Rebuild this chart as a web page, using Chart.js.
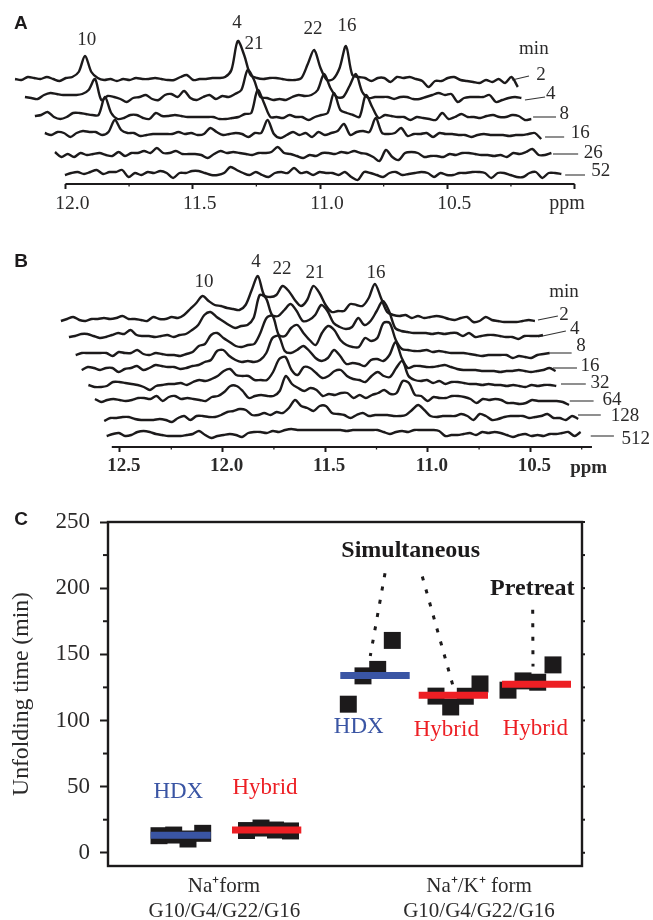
<!DOCTYPE html>
<html>
<head>
<meta charset="utf-8">
<title>Unfolding time</title>
<script src="https://cdn.jsdelivr.net/npm/chart.js@4/dist/chart.umd.min.js"></script>
<style>
body { margin: 0; background: #fff; width: 653px; height: 920px; position: relative; overflow: hidden; }
canvas { position: absolute; left: 0; }
#chartA { top: 0; }
#chartB { top: 240px; }
#chartC { top: 495px; }
</style>
</head>
<body>
<canvas id="chartA" width="653" height="225"></canvas>
<canvas id="chartB" width="653" height="255"></canvas>
<canvas id="chartC" width="653" height="425"></canvas>
<script>
// panel A spectra, height above the ppm axis, sampled every 0.025 ppm
var stepA = 0.025;
var startsA = [12.198, 12.159, 12.120, 12.081, 12.041, 12.002];
var a2 = [105,104,107,106,105,107,105,103,106,107,112,128,112,106,104,105,103,105,104,106,105,105,106,105,104,104,107,109,104,105,105,106,106,107,114,143,129,109,106,105,106,106,105,104,104,106,120,134,116,104,105,116,138,109,107,106,103,106,106,102,107,106,107,105,103,97,103,103,106,107,104,103,102,101,104,102,105,101,107,97];
var a4 = [87,86,85,89,91,90,89,89,89,90,94,105,84,88,87,85,82,86,87,89,85,84,89,90,87,93,86,84,87,89,85,88,87,90,94,114,104,87,86,84,85,84,87,89,88,89,94,110,96,87,87,98,110,92,86,87,87,87,85,87,87,85,85,87,89,91,89,90,82,86,87,87,87,89,82,84,86,87,86];
var a8 = [68,69,72,67,65,67,71,71,70,69,69,87,71,65,66,69,69,66,65,71,68,68,69,68,67,67,67,67,67,65,65,66,67,70,71,94,81,67,67,66,69,67,67,64,67,69,71,91,74,71,69,67,89,77,66,69,68,67,67,64,67,66,65,64,71,65,67,70,67,67,66,68,69,67,67,69,68,64,65];
var a16 = [51,49,52,51,47,51,53,52,52,49,52,64,54,51,51,48,49,50,50,50,50,52,50,51,49,50,56,52,49,50,51,50,47,51,51,64,50,46,49,52,49,51,47,52,49,51,53,60,49,52,53,52,66,51,50,51,56,48,50,50,51,47,51,50,50,49,49,47,49,50,49,49,49,48,49,49,50,51,45];
var a26 = [32,27,30,27,31,29,30,31,29,28,32,28,31,31,33,31,36,31,31,33,30,30,30,29,26,30,33,31,32,31,30,29,31,31,32,37,31,30,28,26,29,28,31,31,30,32,31,33,31,30,27,23,34,27,24,31,32,31,27,28,28,27,30,29,31,31,30,29,29,28,29,27,31,30,32,35,29,29,31];
var a52 = [9,11,12,10,12,14,10,12,12,14,7,11,9,12,11,13,11,6,11,11,13,13,11,9,9,11,17,14,11,9,12,9,7,11,12,11,16,11,12,9,12,11,11,9,12,7,4,12,11,9,7,11,12,9,10,11,12,11,7,11,9,9,11,11,12,12,11,6,11,11,9,7,7,11,12,6,11,11,10];

// panel B spectra, sampled every 0.03 ppm
var stepB = 0.03;
var startsB = [12.788, 12.749, 12.716, 12.687, 12.654, 12.622, 12.577, 12.565];
var b2 = [126,128,130,127,126,128,128,129,128,129,131,128,128,127,126,130,128,128,130,129,132,138,144,151,146,142,141,139,138,137,142,157,171,152,150,152,161,156,147,141,147,161,154,142,135,136,136,143,142,141,149,163,149,135,132,131,132,129,131,129,130,131,130,128,127,129,130,125,126,130,127,126,125,125,125,126,127,126];
var b4 = [110,111,113,113,111,109,110,112,114,113,117,112,111,111,110,111,112,110,112,113,117,122,132,135,130,126,122,119,121,122,129,152,149,132,131,137,143,136,126,127,132,142,136,124,120,118,120,129,122,126,136,146,136,119,116,115,114,114,114,113,114,113,114,114,111,114,110,111,112,112,111,110,110,108,111,111,111,112];
var b8 = [92,94,94,94,94,94,91,95,94,94,97,93,92,94,93,92,92,91,93,95,101,103,112,114,109,105,101,100,102,103,114,129,131,112,111,119,122,114,107,102,114,121,117,107,102,100,100,109,106,109,124,124,107,98,97,96,96,97,95,96,95,94,94,94,93,92,91,92,92,92,92,89,91,90,89,92,93,94];
var b16 = [77,80,79,77,79,79,75,78,79,81,77,79,82,81,80,80,78,79,81,82,85,87,96,97,91,87,85,86,85,87,94,109,111,96,94,97,101,96,89,86,89,97,91,83,84,83,81,87,88,86,92,105,89,79,81,81,80,80,81,82,80,78,77,77,77,76,76,76,75,76,76,77,76,75,76,77,79,76];
var b32 = [62,60,60,61,65,65,64,63,62,60,57,61,62,63,63,64,62,65,67,66,68,71,76,78,72,71,71,67,67,67,75,88,90,77,72,80,79,74,69,71,76,77,71,68,67,65,71,75,71,70,79,86,71,67,66,67,64,66,63,65,65,64,63,63,62,63,62,62,61,62,61,60,62,61,62,62,61];
var b64 = [48,45,47,48,47,46,47,49,49,48,51,46,50,51,48,49,48,47,46,50,51,55,61,61,56,49,51,52,51,51,56,71,63,59,56,59,57,51,53,52,54,54,49,52,49,52,54,57,53,54,66,64,52,51,46,50,49,49,51,51,50,48,44,48,47,48,47,44,44,43,44,47,46,46,46,46,45,42];
var b128 = [26,29,29,30,30,28,27,27,27,28,27,25,29,31,27,31,31,30,30,32,35,36,38,37,32,32,34,32,35,34,39,47,41,39,36,41,41,34,33,32,29,32,34,31,32,32,32,31,31,32,37,42,37,31,30,31,31,31,33,31,27,33,31,27,28,30,31,31,31,29,30,31,33,29,29,27,31,28];
var b512 = [11,13,14,11,12,15,16,15,13,12,11,11,11,12,13,16,12,9,11,12,13,12,10,14,15,15,14,16,15,17,18,17,17,17,17,17,17,17,17,16,17,17,17,17,17,15,13,15,16,15,17,17,17,17,16,11,12,12,13,14,12,15,14,15,14,12,10,12,13,11,12,11,13,13,14,15,11,15];

var axisEndsA = [12.0, 10.0];
var majorTicksA = [12.0, 11.5, 11.0, 10.5, 10.0];
var minorTicksA = [11.75, 11.25, 10.75, 10.25];
var axisEndsB = [12.54, 10.2];
var majorTicksB = [12.5, 12.0, 11.5, 11.0, 10.5];
var minorTicksB = [12.25, 11.75, 11.25, 10.75, 10.25];

// little lines joining each spectrum to its minute label
var tailXA = [[10.246,10.179],[10.195,10.116],[10.163,10.073],[10.116,10.041],[10.085,9.986],[10.037,9.959]];
var tailYA = [[104,108],[84,87],[67,67],[47,47],[30,30],[9,9]];
var tailXB = [[10.463,10.366],[10.463,10.327],[10.406,10.299],[10.39,10.273],[10.351,10.23],[10.308,10.192],[10.268,10.157],[10.206,10.093]];
var tailYB = [[127,131],[110,116],[94,94],[79,79],[63,63],[46,46],[32,32],[11,11]];

var peakTextA = ['10', '4', '21', '22', '16'];
var peakXA = [11.916, 11.326, 11.259, 11.028, 10.894];
var peakYA = [144, 161, 140, 155, 158];
var minTextA = ['min', '2', '4', '8', '16', '26', '52'];
var minXA = [10.160, 10.132, 10.094, 10.041, 9.978, 9.927, 9.897];
var minYA = [135, 109, 90, 70, 51, 31, 13];

var peakTextB = ['10', '4', '22', '21', '16'];
var peakXB = [12.091, 11.837, 11.711, 11.55, 11.252];
var peakYB = [165, 185, 178, 174, 174];
var minTextB = ['min', '2', '4', '8', '16', '32', '64', '128', '512'];
var minXB = [10.336, 10.336, 10.284, 10.253, 10.21, 10.161, 10.102, 10.039, 9.987];
var minYB = [155, 132, 118, 101, 81, 64, 47, 31, 8];

// panel C, x is only a position along the box
var hdxNaX = [51, 65.7, 80, 94.7];
var hdxNaY = [12.9, 13.4, 10.4, 14.7];
var hybridNaX = [138.5, 153, 167.5, 182.5];
var hybridNaY = [16.8, 18.7, 17.2, 16.5];
var hdxKX = [240.3, 255, 269.7, 284.3];
var hdxKY = [112.3, 133.7, 138.6, 160.5];
var hybridKX = [328, 342.7, 357.3, 372];
var hybridKY = [118.4, 110.2, 118.3, 127.6];
var pretreatX = [400, 415, 429.7, 445];
var pretreatY = [122.9, 129.9, 128.9, 142];

var blueMeansX = [[42.7, 102.7], [232.3, 301.7]];
var blueMeansY = [13.2, 133.9];
var redMeansX = [[124, 193.3], [310.7, 380], [394, 463]];
var redMeansY = [17.2, 119, 127.4];

var dottedX = [[277, 262.3], [314.3, 345], [424.7, 425]];
var dottedY = [[211.3, 148.8], [208.8, 126.1], [183.6, 140.7]];

var majorTicksC = [0, 50, 100, 150, 200, 250];
var minorTicksC = [25, 75, 125, 175, 225];

var ink = '#1c1a1b';
var textInk = '#2b2a2a';
var blue = '#3a55a4';
var red = '#ed1f24';

function makeLabels(texts, xs, ys, font, color) {
    var list = [];
    for (var i = 0; i < texts.length; i++) {
        list.push({ text: texts[i], x: xs[i], y: ys[i], font: font, color: color });
    }
    return list;
}

function traceDatasets(traces, starts, step) {
    var out = [];
    traces.forEach(function(values, t) {
        out.push({
            data: values.map(function(v, i) { return { x: starts[t] - i * step, y: v }; }),
            showLine: true, borderColor: ink, borderWidth: 2.4, pointRadius: 0, tension: 0.3
        });
    });
    return out;
}

function tailDatasets(xs, ys) {
    return xs.map(function(x, i) {
        return {
            data: [{ x: x[0], y: ys[i][0] }, { x: x[1], y: ys[i][1] }],
            showLine: true, borderColor: '#333', borderWidth: 1.1, pointRadius: 0
        };
    });
}

// writes the annotations and adds what Chart.js has no option for (short minor ticks, box)
var panelExtras = {
    id: 'panelExtras',
    afterDraw: function(chart, args, opts) {
        var ctx = chart.ctx;
        var sx = chart.scales.x, sy = chart.scales.y;
        ctx.save();
        ctx.strokeStyle = ink;
        if (opts.box) {
            var a = chart.chartArea;
            ctx.lineWidth = 2.4;
            ctx.strokeRect(a.left, a.top, a.right - a.left, a.bottom - a.top);
            ctx.lineWidth = 2;
            (opts.minorY || []).forEach(function(v) {
                var p = sy.getPixelForValue(v);
                ctx.beginPath(); ctx.moveTo(a.left - 5, p); ctx.lineTo(a.left, p); ctx.stroke();
            });
            (opts.minorY || []).concat(opts.majorY || []).forEach(function(v) {
                var p = sy.getPixelForValue(v);
                ctx.beginPath(); ctx.moveTo(a.right, p); ctx.lineTo(a.right + 3, p); ctx.stroke();
            });
        }
        (opts.minorX || []).forEach(function(v) {
            var p = sx.getPixelForValue(v);
            var b = chart.chartArea.bottom;
            ctx.lineWidth = 1.3;
            ctx.beginPath(); ctx.moveTo(p, b); ctx.lineTo(p, b + 2.5); ctx.stroke();
        });
        ctx.textAlign = 'center';
        ctx.textBaseline = 'middle';
        (opts.labels || []).forEach(function(l) {
            ctx.font = l.font;
            ctx.fillStyle = l.color;
            ctx.fillText(l.text, sx.getPixelForValue(l.x), sy.getPixelForValue(l.y));
        });
        ctx.restore();
    }
};

function drawSpectrum(id, traces, starts, step, tailX, tailY, axisEnds, majors, minors, xMin, xMax, yMax, bottomH, labelOffset, tickFont, labels) {
    var sets = traceDatasets(traces, starts, step).concat(tailDatasets(tailX, tailY));
    sets.push({
        data: [{ x: axisEnds[0], y: 0 }, { x: axisEnds[1], y: 0 }],
        showLine: true, borderColor: ink, borderWidth: 1.8, pointRadius: 0, clip: false
    });
    new Chart(document.getElementById(id), {
        type: 'scatter',
        data: { datasets: sets },
        options: {
            responsive: false,
            animation: false,
            layout: { padding: 0 },
            plugins: {
                legend: { display: false },
                tooltip: { enabled: false },
                panelExtras: { minorX: minors, labels: labels }
            },
            scales: {
                x: {
                    type: 'linear', reverse: true, min: xMin, max: xMax,
                    afterBuildTicks: function(s) { s.ticks = majors.map(function(v) { return { value: v }; }); },
                    afterFit: function(s) { s.height = bottomH; },
                    grid: { drawOnChartArea: false, tickLength: 5, tickWidth: 2, tickColor: ink },
                    border: { display: false },
                    ticks: {
                        autoSkip: false, maxRotation: 0, padding: 3, labelOffset: labelOffset,
                        color: textInk, font: tickFont,
                        callback: function(v) { return v == 10 ? '' : v.toFixed(1); }
                    }
                },
                y: { display: false, min: 0, max: yMax }
            }
        },
        plugins: [panelExtras]
    });
}

function drawPanelC() {
    var sets = [];
    blueMeansX.forEach(function(x, i) {
        sets.push({ data: [{ x: x[0], y: blueMeansY[i] }, { x: x[1], y: blueMeansY[i] }], showLine: true, borderColor: blue, borderWidth: 7, pointRadius: 0, order: 1 });
    });
    redMeansX.forEach(function(x, i) {
        sets.push({ data: [{ x: x[0], y: redMeansY[i] }, { x: x[1], y: redMeansY[i] }], showLine: true, borderColor: red, borderWidth: 7, pointRadius: 0, order: 1 });
    });
    dottedX.forEach(function(x, i) {
        sets.push({ data: [{ x: x[0], y: dottedY[i][0] }, { x: x[1], y: dottedY[i][1] }], showLine: true, borderColor: ink, borderWidth: 3, borderDash: [4, 9.5], pointRadius: 0, order: 3 });
    });
    [[hdxNaX, hdxNaY], [hybridNaX, hybridNaY], [hdxKX, hdxKY], [hybridKX, hybridKY], [pretreatX, pretreatY]].forEach(function(g) {
        sets.push({
            data: g[0].map(function(x, i) { return { x: x, y: g[1][i] }; }),
            pointStyle: 'rect', pointRadius: 12, pointBackgroundColor: ink, pointBorderWidth: 0, order: 2
        });
    });

    var labelFont = '23px "Liberation Serif"';
    var formFont = '21px "Liberation Serif"';
    var boldFont = 'bold 24px "Liberation Serif"';
    var labels = makeLabels(['HDX', 'HDX'], [70.3, 250.7], [46.1, 94.9], labelFont, blue)
        .concat(makeLabels(['Hybrid', 'Hybrid', 'Hybrid'], [157, 338.3, 427.3], [49, 92.8, 93.3], labelFont, red))
        .concat(makeLabels(['Simultaneous', 'Pretreat'], [302.7, 424.3], [228.2, 199.2], boldFont, ink))
        .concat(makeLabels(['Na\u207Aform', 'G10/G4/G22/G16', 'Na\u207A/K\u207A form', 'G10/G4/G22/G16'], [116, 116.3, 371, 371], [-25.7, -44.6, -25.7, -44.6], formFont, textInk))
        .concat(makeLabels(['C'], [-87], [251.7], 'bold 19px "Liberation Sans"', ink));

    new Chart(document.getElementById('chartC'), {
        type: 'scatter',
        data: { datasets: sets },
        options: {
            responsive: false,
            animation: false,
            layout: { padding: { top: 27, right: 71 } },
            plugins: {
                legend: { display: false },
                tooltip: { enabled: false },
                panelExtras: { box: true, minorY: minorTicksC, majorY: majorTicksC, labels: labels }
            },
            scales: {
                x: {
                    type: 'linear', min: 0, max: 474,
                    afterFit: function(s) { s.height = 54; },
                    grid: { display: false },
                    border: { display: false },
                    ticks: { display: false }
                },
                y: {
                    type: 'linear', min: -10, max: 250,
                    afterBuildTicks: function(s) { s.ticks = majorTicksC.map(function(v) { return { value: v }; }); },
                    afterFit: function(s) { s.width = 108; },
                    grid: { drawOnChartArea: false, tickLength: 8, tickWidth: 2, tickColor: ink },
                    border: { display: false },
                    ticks: { padding: 10, color: textInk, font: { family: 'Liberation Serif', size: 23 } },
                    title: {
                        display: true, text: 'Unfolding time (min)', color: textInk,
                        font: { family: 'Liberation Serif', size: 23.7 }, padding: { top: 8, bottom: 0 }
                    }
                }
            }
        },
        plugins: [panelExtras]
    });
}

var serif19 = '19px "Liberation Serif"';
var serifBold = 'bold 19px "Liberation Serif"';
var letterFont = 'bold 19px "Liberation Sans"';

drawSpectrum('chartA', [a2, a4, a8, a16, a26, a52], startsA, stepA, tailXA, tailYA, axisEndsA, majorTicksA, minorTicksA,
    9.692, 12.257, 184, 41, 7, { family: 'Liberation Serif', size: 19.5 },
    makeLabels(peakTextA, peakXA, peakYA, serif19, textInk)
        .concat(makeLabels(minTextA, minXA, minYA, serif19, textInk))
        .concat(makeLabels(['ppm'], [10.03], [-20], '20px "Liberation Serif"', textInk))
        .concat(makeLabels(['A'], [12.175], [160], letterFont, ink)));

drawSpectrum('chartB', [b2, b4, b8, b16, b32, b64, b128, b512], startsB, stepB, tailXB, tailYB, axisEndsB, majorTicksB, minorTicksB,
    9.9025, 13.0848, 207, 48, 4, { family: 'Liberation Serif', size: 19, weight: 'bold' },
    makeLabels(peakTextB, peakXB, peakYB, serif19, textInk)
        .concat(makeLabels(minTextB, minXB, minYB, serif19, textInk))
        .concat(makeLabels(['ppm'], [10.216], [-21], serifBold, textInk))
        .concat(makeLabels(['B'], [12.982], [185], letterFont, ink)));

drawPanelC();
</script>
</body>
</html>
